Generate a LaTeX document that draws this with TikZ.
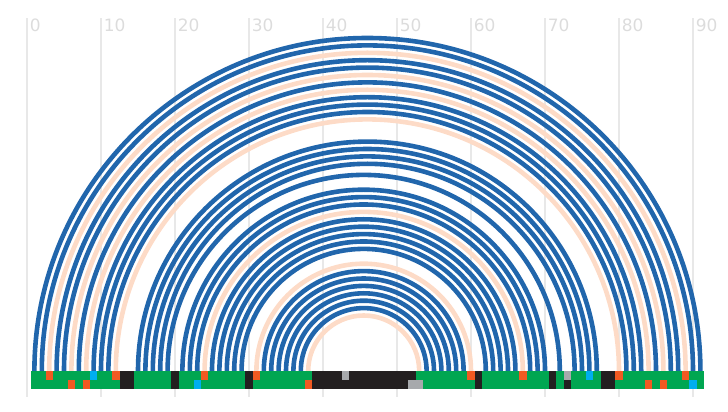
\documentclass[tikz,border=0pt]{standalone}
\usepackage{fontspec}
\setmainfont{DejaVu Sans}
\definecolor{arcblue}{HTML}{2166AC}
\definecolor{arcpeach}{HTML}{FDDBC7}
\definecolor{bgreen}{HTML}{00A651}
\definecolor{borange}{HTML}{F15A22}
\definecolor{bcyan}{HTML}{00AEEF}
\definecolor{bblack}{HTML}{231F20}
\definecolor{bgray}{HTML}{A7A9AC}
\definecolor{gridgray}{HTML}{E8E8E8}
\definecolor{labelgray}{HTML}{DCDCDC}
\tikzset{
  gridline/.style={draw=gridgray, line width=1.2pt},
  axislabel/.style={anchor=base west, inner sep=0pt, text=labelgray, font=\fontsize{17}{17}\selectfont},
  bluearc/.style={draw=arcblue, line width=4.6pt},
  peacharc/.style={draw=arcpeach, line width=4.6pt},
}
\begin{document}
\begin{tikzpicture}[x=1pt,y=1pt]
\useasboundingbox (0,0) rectangle (728,412);
\begin{scope}[shift={(27pt,41pt)}, x=7.4pt, y=7.4pt]
\def\rh{1.216216}
% grid and labels
\foreach \g in {0,10,...,90}{
  \coordinate (gt\g) at (\g,47.7);
  \coordinate (gb\g) at (\g,-3.5135);
  \draw[gridline] (gb\g) -- (gt\g);
  \node[axislabel, xshift=2.6pt] (lab\g) at (\g,45.85) {\g};
}
% bases
\foreach \i in {1,...,91}{ \coordinate (b\i) at (\i,0); }
% arcs
\foreach \a/\b/\s in {1/91/bluearc,2/90/bluearc,3/89/peacharc,4/88/bluearc,5/87/bluearc,6/86/peacharc,
  7/85/bluearc,8/84/peacharc,9/83/bluearc,10/82/bluearc,11/81/bluearc,12/80/peacharc,
  15/77/bluearc,16/76/bluearc,17/75/bluearc,18/74/bluearc,19/72/bluearc,
  21/70/bluearc,22/69/bluearc,23/68/bluearc,24/67/peacharc,25/66/bluearc,26/65/bluearc,
  27/64/bluearc,28/63/bluearc,29/62/bluearc,
  31/60/peacharc,32/59/bluearc,33/58/bluearc,34/57/bluearc,35/56/bluearc,36/55/bluearc,
  37/54/bluearc,38/53/peacharc}{
  \pgfmathsetmacro\rr{(\b-\a)*3.7}
  \draw[\s] (b\a) arc[start angle=180, end angle=0, radius=\rr pt];
}
% bar
\fill[bgreen] (0.5,0) rectangle (91.5,-2*\rh);
\foreach \p/\q/\r/\c in {3/3/0/borange,9/9/0/bcyan,12/12/0/borange,13/14/0/bblack,20/20/0/bblack,
  24/24/0/borange,30/30/0/bblack,31/31/0/borange,39/42/0/bblack,43/43/0/bgray,44/52/0/bblack,
  60/60/0/borange,61/61/0/bblack,67/67/0/borange,71/71/0/bblack,73/73/0/bgray,76/76/0/bcyan,
  78/79/0/bblack,80/80/0/borange,89/89/0/borange,
  6/6/1/borange,8/8/1/borange,13/14/1/bblack,20/20/1/bblack,23/23/1/bcyan,30/30/1/bblack,
  38/38/1/borange,39/51/1/bblack,52/53/1/bgray,61/61/1/bblack,71/71/1/bblack,73/73/1/bblack,
  78/79/1/bblack,84/84/1/borange,86/86/1/borange,90/90/1/bcyan}{
  \fill[\c] (\p-0.5,-\r*\rh) rectangle (\q+0.5,-\r*\rh-\rh);
}
\end{scope}
\end{tikzpicture}
\end{document}
